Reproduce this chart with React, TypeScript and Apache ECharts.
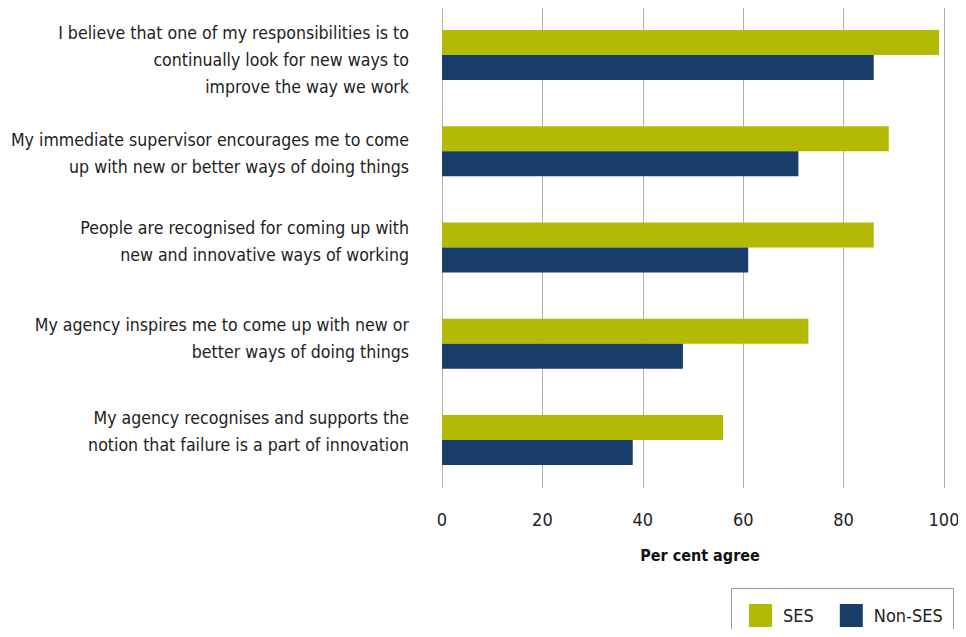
import React, { useEffect, useRef } from "react";
import * as echarts from "echarts";

const categories = [
  "I believe that one of my responsibilities is to\ncontinually look for new ways to\nimprove the way we work",
  "My immediate supervisor encourages me to come\nup with new or better ways of doing things",
  "People are recognised for coming up with\nnew and innovative ways of working",
  "My agency inspires me to come up with new or\nbetter ways of doing things",
  "My agency recognises and supports the\nnotion that failure is a part of innovation",
];
const sesValues = [99, 89, 86, 73, 56];
const nonSesValues = [86, 71, 61, 48, 38];
const seriesNames = ["SES", "Non-SES"];
const axisTitle = "Per cent agree";

// styling: vertical nudge of each category label (px, + = down)
const labelNudge = [5, 2, -6.5, -5.5, -8];

const FONT = "'Liberation Sans Narrow', 'DejaVu Sans Condensed', 'Roboto Condensed', Arial, sans-serif";

export default function App() {
  const ref = useRef<HTMLDivElement>(null);
  useEffect(() => {
    if (!ref.current) return;
    const chart = echarts.init(ref.current, undefined, { renderer: "svg" });
    const rich: Record<string, any> = {
      t: { fontFamily: FONT, fontSize: 17.6, lineHeight: 27, color: "#222", align: "right" },
    };
    labelNudge.forEach((n, i) => {
      rich["g" + i] = { fontSize: 1, lineHeight: Math.max(1, Math.abs(n) * 2), align: "right" };
    });
    chart.setOption({
      animation: false,
      backgroundColor: "#ffffff",
      grid: {
        left: 442,
        right: 22,
        top: 7,
        bottom: 149,
        containLabel: false,
        outerBoundsMode: "none",
      },
      xAxis: {
        type: "value",
        min: 0,
        max: 100,
        interval: 20,
        axisLine: { show: false },
        axisTick: { show: false },
        splitLine: { show: true, lineStyle: { color: "#b0b0b0", width: 1 } },
        axisLabel: { margin: 22, fontFamily: FONT, fontSize: 18, color: "#222" },
        name: axisTitle,
        nameLocation: "middle",
        nameGap: 59,
        nameTextStyle: {
          fontFamily: FONT,
          fontSize: 16,
          color: "#111",
          fontWeight: "bold",
          padding: [0, 0, 0, 14],
        },
      },
      yAxis: {
        type: "category",
        data: categories,
        inverse: true,
        axisLine: { show: false },
        axisTick: { show: false },
        splitLine: { show: false },
        axisLabel: {
          margin: 33,
          align: "right",
          formatter: (value: string, index: number) => {
            const body = value
              .split("\n")
              .map((l) => `{t|${l}}`)
              .join("\n");
            const n = labelNudge[index] || 0;
            if (n > 0) return `{g${index}| }\n` + body;
            if (n < 0) return body + `\n{g${index}| }`;
            return body;
          },
          rich,
        },
      },
      legend: {
        data: seriesNames,
        left: 749,
        top: 604,
        padding: 0,
        itemWidth: 23,
        itemHeight: 23,
        itemGap: 26,
        icon: "rect",
        textStyle: { fontFamily: FONT, fontSize: 18, color: "#222", padding: [0, 0, 0, 6] },
      },
      graphic: [
        {
          type: "rect",
          shape: { x: 731.5, y: 588.5, width: 222, height: 70 },
          style: { fill: "none", stroke: "#999", lineWidth: 1 },
          silent: true,
        },
      ],
      series: [
        {
          name: seriesNames[0],
          type: "bar",
          data: sesValues,
          barWidth: 25,
          barGap: "0%",
          itemStyle: { color: "#b3ba03" },
        },
        {
          name: seriesNames[1],
          type: "bar",
          data: nonSesValues,
          barWidth: 25,
          barGap: "0%",
          itemStyle: { color: "#193d69" },
        },
      ],
    });
    return () => chart.dispose();
  }, []);
  return <div ref={ref} style={{ width: 966, height: 637, margin: -8 }} />;
}
